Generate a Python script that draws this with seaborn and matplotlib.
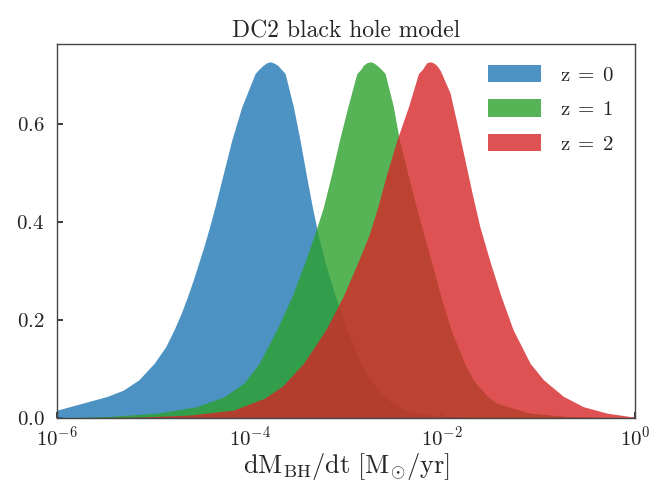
import numpy as np
import pandas as pd
import matplotlib
matplotlib.use("Agg")
import matplotlib.pyplot as plt
import seaborn as sns

# Black-hole accretion-rate distributions: log10(dM/dt [Msun/yr]) and density
z0_log_rate = [-6.00, -5.74, -5.48, -5.31, -5.15, -4.99, -4.87, -4.785, -4.71, -4.645,
               -4.585, -4.53, -4.475, -4.425, -4.36, -4.273, -4.186, -4.082, -3.944,
               -3.903, -3.86, -3.823, -3.788, -3.753, -3.71, -3.673, -3.632, -3.546,
               -3.477, -3.415, -3.35, -3.285, -3.215, -3.11, -2.99, -2.85, -2.75,
               -2.61, -2.40, -2.10, -1.70, 0.0]
z0_density = [0.016, 0.030, 0.044, 0.057, 0.078, 0.112, 0.146, 0.180, 0.214, 0.248,
              0.282, 0.316, 0.350, 0.384, 0.431, 0.499, 0.567, 0.635, 0.703,
              0.712, 0.720, 0.725, 0.727, 0.725, 0.720, 0.712, 0.703, 0.635,
              0.567, 0.499, 0.431, 0.370, 0.316, 0.248, 0.180, 0.112, 0.078,
              0.044, 0.016, 0.005, 0.001, 0.000]

z1_log_rate = [-6.00, -5.48, -4.96, -4.55, -4.26, -4.06, -3.90, -3.72, -3.56,
               -3.43, -3.31, -3.234, -3.148, -3.068, -2.981, -2.888, -2.845, -2.82,
               -2.785, -2.750, -2.715, -2.68, -2.635, -2.594, -2.508, -2.446, -2.36,
               -2.27, -2.205, -2.11, -2.015, -1.91, -1.77, -1.67, -1.53, -1.435,
               -1.09, -0.70, 0.0]
z1_density = [0.000, 0.003, 0.010, 0.023, 0.044, 0.071, 0.112, 0.180, 0.248,
              0.316, 0.384, 0.431, 0.499, 0.567, 0.635, 0.703, 0.712, 0.720,
              0.725, 0.727, 0.725, 0.720, 0.712, 0.703, 0.635, 0.567, 0.499,
              0.431, 0.384, 0.316, 0.248, 0.180, 0.112, 0.075, 0.044, 0.030,
              0.010, 0.003, 0.000]

z2_log_rate = [-6.00, -5.13, -4.62, -4.17, -3.85, -3.66, -3.44, -3.21, -3.03,
               -2.88, -2.76, -2.67, -2.576, -2.472, -2.352, -2.248, -2.205, -2.19,
               -2.162, -2.127, -2.092, -2.06, -2.023, -1.919, -1.840, -1.765, -1.690,
               -1.610, -1.50, -1.39, -1.265, -1.09, -0.95, -0.742, -0.535, -0.292,
               -0.05, 0.0]
z2_density = [0.000, 0.002, 0.006, 0.016, 0.040, 0.065, 0.112, 0.180, 0.248,
              0.316, 0.374, 0.431, 0.499, 0.567, 0.635, 0.703, 0.712, 0.717,
              0.725, 0.727, 0.725, 0.720, 0.710, 0.663, 0.594, 0.526, 0.458,
              0.390, 0.316, 0.248, 0.180, 0.112, 0.078, 0.044, 0.023, 0.010,
              0.003, 0.003]

labels = [r"$\mathrm{z}\;=\;0$", r"$\mathrm{z}\;=\;1$", r"$\mathrm{z}\;=\;2$"]
title = "DC2 black hole model"
xlabel = r"$\mathrm{dM_{BH}/dt\ [M_{\odot}/yr]}$"

frames = []
for lab, lx, dens in [(labels[0], z0_log_rate, z0_density),
                      (labels[1], z1_log_rate, z1_density),
                      (labels[2], z2_log_rate, z2_density)]:
    frames.append(pd.DataFrame({"rate": 10.0 ** np.asarray(lx),
                                "density": dens, "redshift": lab}))
df = pd.concat(frames, ignore_index=True)

sns.set_theme(style="white")
plt.rcParams.update({
    "font.family": "serif",
    "font.serif": ["cmr10", "DejaVu Serif"],
    "mathtext.fontset": "cm",
    "axes.formatter.use_mathtext": True,
    "axes.unicode_minus": False,
    "axes.edgecolor": "#444444",
    "axes.linewidth": 1.0,
    "xtick.direction": "in",
    "ytick.direction": "in",
    "xtick.bottom": True,
    "ytick.left": True,
    "xtick.major.size": 4,
    "ytick.major.size": 4,
    "xtick.color": "#222222",
    "ytick.color": "#222222",
})

palette = dict(zip(labels, [sns.color_palette("tab10")[i] for i in (0, 2, 3)]))

fig = plt.figure(figsize=(6.56, 4.9), dpi=100)
ax = fig.add_axes([57 / 656, 1 - 418 / 490, (635 - 57) / 656, (418 - 44) / 490])

# zero-width lines put the data on the axes through seaborn; fills give the areas
sns.lineplot(data=df, x="rate", y="density", hue="redshift", palette=palette,
             linewidth=0, legend=False, ax=ax, sort=False)
for lab in labels:
    sub = df[df["redshift"] == lab]
    ax.fill_between(sub["rate"], 0, sub["density"], color=palette[lab],
                    alpha=0.8, linewidth=0, label=lab)

ax.set_xscale("log")
ax.set_xlim(1e-6, 1)
ax.autoscale(axis="y")
ax.set_ylim(bottom=0)
ax.set_yticks([0.0, 0.2, 0.4, 0.6])
ax.set_xticks([1e-6, 1e-4, 1e-2, 1])
ax.minorticks_off()
ax.tick_params(axis="y", labelsize=15, pad=9)
ax.tick_params(axis="x", labelsize=15, pad=5)
ax.set_xlabel(xlabel, fontsize=19, labelpad=1)
ax.set_ylabel("")
ax.set_title(title, fontsize=17, pad=5)

ax.legend(loc="upper right", frameon=False, fontsize=15, handlelength=2.55,
          handleheight=0.9, handletextpad=0.9, labelspacing=0.7,
          borderaxespad=0.6)

fig.savefig("out.png", dpi=100)
